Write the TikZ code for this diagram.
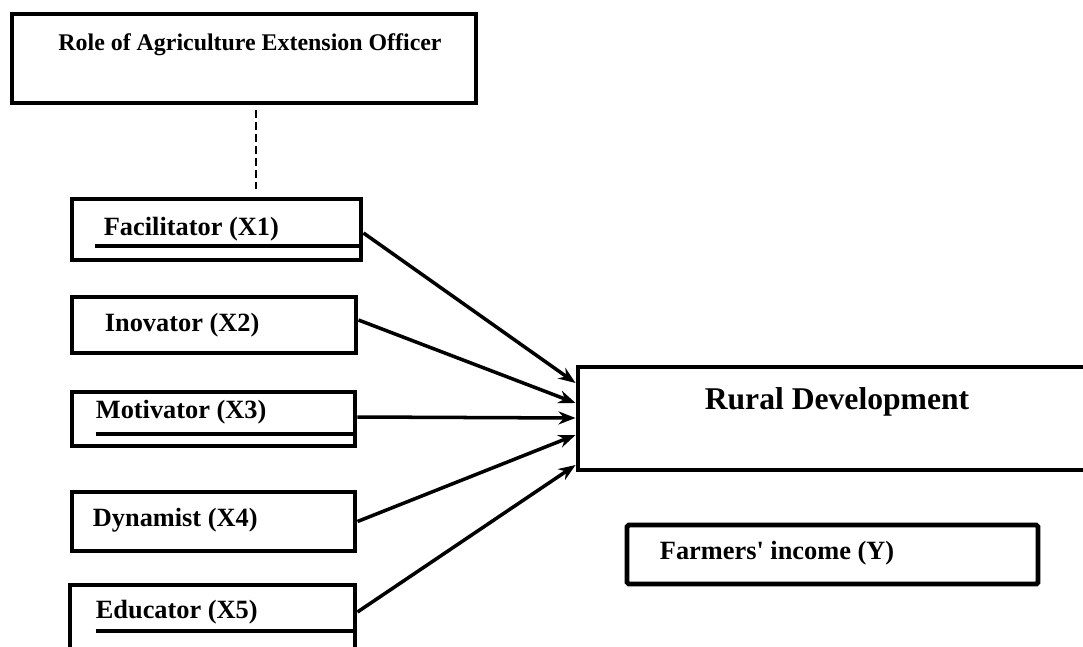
\documentclass[tikz,border=0pt]{standalone}
\usepackage{fontspec}
\setmainfont{Liberation Serif}
\newfontfamily\plainserif{Liberation Serif}
\usetikzlibrary{arrows.meta}

\begin{document}
\begin{tikzpicture}[
  >={Stealth[length=3.4mm, width=2.6mm]},
  every node/.style={font=\bfseries},
  rolebox/.style={rectangle, draw=black, line width=2.8pt, minimum width=9.28cm, minimum height=1.78cm, inner sep=0pt},
  varbox/.style={rectangle, draw=black, line width=2.8pt, minimum height=1.12cm, inner sep=0pt},
  rdbox/.style={rectangle, draw=black, line width=2.8pt, minimum width=10.64cm, minimum height=2.06cm, inner sep=0pt},
  incomebox/.style={rectangle, draw=black, line width=2.8pt, rounded corners=1pt, minimum width=8.22cm, minimum height=1.18cm, inner sep=0pt},
  lbl/.style={anchor=west, inner sep=0pt, font=\fontsize{15}{18}\selectfont\bfseries},
  uline/.style={line width=2pt},
  dashline/.style={line width=1.6pt, dash pattern=on 4.5pt off 2.3pt},
  edge/.style={->, line width=2pt},
]
\clip (0,0) rectangle (21.66,12.92);

% ---- top box ----
\node[rolebox] (role) at (4.88, 11.75) {};
\node[font=\fontsize{13.6}{16}\selectfont\bfseries] (roletxt) at ([shift={(0.12,0.27)}]role.center) {Role of Agriculture Extension Officer};

% ---- roles X1..X5 ----
\node[varbox, minimum width=5.78cm, minimum height=1.22cm] (x1) at (4.33, 8.33) {};
\node[varbox, minimum width=5.68cm] (x2) at (4.28, 6.42) {};
\node[varbox, minimum width=5.66cm, minimum height=1.08cm] (x3) at (4.27, 4.54) {};
\node[varbox, minimum width=5.66cm, minimum height=1.18cm] (x4) at (4.27, 2.49) {};
\node[varbox, minimum width=5.70cm, minimum height=1.50cm] (x5) at (4.25, 0.47) {};

\node[lbl] (x1txt) at ([xshift=0.68cm]x1.west) {Facilitator (X1)};
\node[lbl] (x2txt) at ([xshift=0.70cm]x2.west) {Inovator (X2)};
\node[lbl] (x3txt) at ([shift={(0.52,0.14)}]x3.west) {Motivator (X3)};
\node[lbl] (x4txt) at ([shift={(0.46,0.03)}]x4.west) {Dynamist (X4)};
\node[lbl] (x5txt) at ([shift={(0.56,0.21)}]x5.west) {Educator (X5)};

% underlines inside boxes
\draw[uline] ([shift={(0.50,-0.33)}]x1.west) -- ([yshift=-0.33cm]x1.east);
\draw[uline] ([shift={(0.52,-0.30)}]x3.west) -- ([yshift=-0.30cm]x3.east);
\draw[uline] ([shift={(0.56,-0.17)}]x5.west) -- ([yshift=-0.17cm]x5.east);

% ---- outcome boxes ----
\node[rdbox] (rd) at (16.88, 4.55) {};
\node[font=\fontsize{18}{22}\selectfont\bfseries] (rdtxt) at ([shift={(-0.14,0.33)}]rd.center) {Rural Development};
\node[incomebox] (inc) at (16.65, 1.83) {};
\node[lbl] (inctxt) at ([shift={(0.70,0.03)}]inc.west) {\plainserif\bfseries Farmers' income (Y)};

% ---- connectors ----
\draw[dashline, shorten <=0.1cm, shorten >=0.15cm] ([xshift=0.24cm]role.south) -- ([xshift=0.24cm]role.south |- x1.north);
\draw[edge] ([yshift=-0.07cm]x1.east) -- ([yshift=0.71cm]rd.west);
\draw[edge] ([yshift=0.10cm]x2.east) -- ([yshift=0.31cm]rd.west);
\draw[edge] ([yshift=0.04cm]x3.east) -- ([yshift=0.01cm]rd.west);
\draw[edge] (x4.east) -- ([yshift=-0.33cm]rd.west);
\draw[edge] ([yshift=0.21cm]x5.east) -- ([yshift=-0.93cm]rd.west);

\end{tikzpicture}
\end{document}
